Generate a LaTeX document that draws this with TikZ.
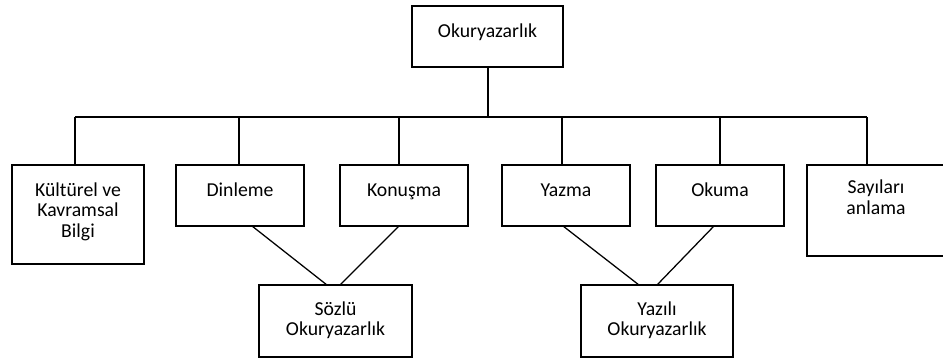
\documentclass[tikz,border=0pt]{standalone}
\usepackage{fontspec}
\setmainfont{Carlito}
\usetikzlibrary{calc}
\newcommand{\bxt}[4][23.25pt]{\parbox[t][#3][t]{#2}{\centering\rule{0pt}{#1}#4}}
\tikzset{
  box/.style={draw=black, line width=1.2pt, inner sep=0pt, outer sep=0pt, fill=white},
  tree/.style={draw=black, line width=1.5pt},
  diag/.style={draw=black, line width=0.95pt}
}
\begin{document}
\begin{tikzpicture}[x=0.75pt,y=-0.75pt,font=\fontsize{14.8pt}{15.6pt}\selectfont]
\clip (0,0) rectangle (943,358);
\fill[white] (0,0) rectangle (943,358);
% boxes
\node[box] (okur) at (487.5,36.5) {\bxt{113.25pt}{45.75pt}{Okuryazarlık}};
\node[box] (kult) at (78,214.5) {\bxt{99pt}{74.25pt}{Kültürel ve\\Kavramsal\\Bilgi}};
\node[box] (dinl) at (240,195.5) {\bxt{96pt}{45.75pt}{Dinleme}};
\node[box] (konu) at (404,195.5) {\bxt{96pt}{45.75pt}{Konuşma}};
\node[box] (yazm) at (566,195.5) {\bxt{96pt}{45.75pt}{Yazma}};
\node[box] (okum) at (720,195.5) {\bxt{96pt}{45.75pt}{Okuma}};
\node[box] (sayi) at (876,210.5) {\bxt[21.5pt]{103.5pt}{68.25pt}{Sayıları\\anlama}};
\node[box] (sozl) at (335.5,321) {\bxt[22.5pt]{114.75pt}{54pt}{Sözlü\\Okuryazarlık}};
\node[box] (yazi) at (657,321) {\bxt[22.5pt]{114pt}{54pt}{Yazılı\\Okuryazarlık}};
% bus
\coordinate (bL) at (75,117);
\coordinate (bR) at (867,117);
\draw[tree] (okur.south) -- (okur.south |- bL);
\draw[tree] (bL) -- (bR);
\draw[tree] (bL) -- (bL |- kult.north);
\draw[tree] ([xshift=-0.75pt]dinl.north) -- ([xshift=-0.75pt]dinl.north |- bL);
\draw[tree] ([xshift=-3.75pt]konu.north) -- ([xshift=-3.75pt]konu.north |- bL);
\draw[tree] ([xshift=-3pt]yazm.north) -- ([xshift=-3pt]yazm.north |- bL);
\draw[tree] (okum.north) -- (okum.north |- bL);
\draw[tree] (bR) -- (bR |- sayi.north);
% diagonals
\draw[diag] ([xshift=9pt]dinl.south) -- ([xshift=-6.4pt]sozl.north);
\draw[diag] ([xshift=-3.75pt]konu.south) -- ([xshift=3.4pt]sozl.north);
\draw[diag] ([xshift=-2.25pt]yazm.south) -- ([xshift=-13.5pt]yazi.north);
\draw[diag] ([xshift=-4.5pt]okum.south) -- (yazi.north);
\end{tikzpicture}
\end{document}
